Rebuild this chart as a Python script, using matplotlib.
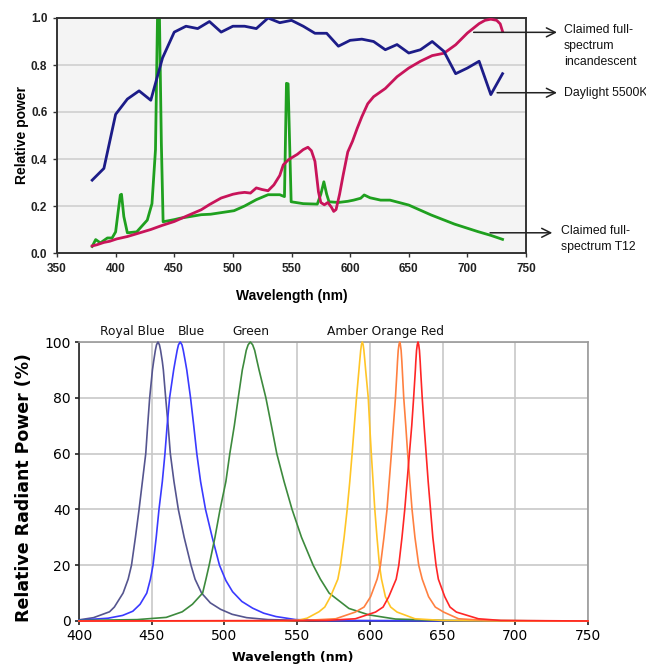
import matplotlib
matplotlib.use("Agg")
import matplotlib.pyplot as plt

# ---------- top chart data ----------
day_wl = [380, 390, 400, 410, 420, 430, 440, 450, 460, 470, 480, 490, 500, 510, 520, 530,
          540, 550, 560, 570, 580, 590, 600, 610, 620, 630, 640, 650, 660, 670, 680, 690,
          700, 710, 720, 730]
day_val = [0.31, 0.36, 0.59, 0.655, 0.69, 0.65, 0.83, 0.94, 0.965, 0.955, 0.985, 0.94,
           0.965, 0.965, 0.955, 1.0, 0.98, 0.99, 0.965, 0.935, 0.935, 0.88, 0.905, 0.91,
           0.90, 0.865, 0.887, 0.851, 0.865, 0.90, 0.858, 0.763, 0.787, 0.816, 0.674, 0.763]

inc_wl = [380, 384, 390, 395, 401, 410, 420, 430, 440, 450, 460, 473, 480, 490, 500, 505,
          510, 515, 520, 525, 530, 535, 540, 543, 547, 550, 555, 560, 564, 567, 570, 573,
          575, 578, 581, 584, 586, 588, 591, 594, 598, 602, 606, 610, 615, 620, 626, 630,
          640, 650, 660, 670, 680, 690, 700, 710, 715, 720, 725, 728, 730]
inc_val = [0.03, 0.035, 0.045, 0.05, 0.06, 0.07, 0.085, 0.10, 0.118, 0.134, 0.156, 0.184,
           0.206, 0.234, 0.25, 0.255, 0.258, 0.255, 0.277, 0.27, 0.265, 0.29, 0.33, 0.375,
           0.395, 0.405, 0.42, 0.44, 0.45, 0.435, 0.39, 0.26, 0.215, 0.205, 0.215, 0.195,
           0.177, 0.185, 0.25, 0.33, 0.43, 0.475, 0.53, 0.58, 0.635, 0.665, 0.686, 0.70,
           0.75, 0.787, 0.816, 0.84, 0.85, 0.886, 0.936, 0.976, 0.99, 0.995, 0.99, 0.975, 0.943]

t12_wl = [380, 383, 387, 393, 397, 400, 402, 404, 405, 407, 410, 418, 427, 431, 434, 435.7,
          437.4, 439, 440.5, 450, 455, 473, 481, 501, 510, 520, 530, 540, 544, 545.7, 547.1,
          549.7, 560, 572, 575, 577.6, 580, 582, 590, 598, 603, 609, 612, 617, 626, 634, 650,
          669, 689, 709, 720, 730]
t12_val = [0.028, 0.057, 0.043, 0.064, 0.064, 0.09, 0.17, 0.247, 0.25, 0.155, 0.086, 0.09,
           0.14, 0.21, 0.44, 1.0, 1.0, 0.467, 0.133, 0.142, 0.148, 0.163, 0.165, 0.18, 0.2,
           0.227, 0.248, 0.248, 0.24, 0.722, 0.72, 0.218, 0.21, 0.208, 0.25, 0.303, 0.25,
           0.218, 0.215, 0.22, 0.225, 0.233, 0.247, 0.235, 0.225, 0.225, 0.204, 0.162, 0.123,
           0.091, 0.075, 0.058]

# ---------- bottom chart data (LED spectra) ----------
royal_wl = [400, 410, 421, 424.3, 430.3, 433.8, 436.1, 438.8, 441.3, 443.6, 445.9, 447.2,
            448.6, 450.5, 451.3, 452.5, 453.3, 454.3, 455.3, 456.1, 457.3, 458, 459.6, 461.3,
            462.8, 465.3, 468.3, 472.3, 477, 479.8, 484.3, 490.3, 497.3, 505.3, 515.3, 530,
            560, 750]
royal_val = [0.4, 1.2, 3.3, 5, 10, 15, 20, 30, 40, 50, 60, 70, 80, 90, 93, 97, 99, 100, 99,
             97, 93, 90, 80, 70, 60, 50, 40, 30, 20, 15, 10, 6.5, 4.2, 2.4, 1.2, 0.5, 0.15, 0]

blue_wl = [400, 420, 430, 437, 442, 446.6, 449.1, 450.9, 453.1, 455, 457.3, 459.1, 460.6,
           462.3, 465.1, 466.1, 467.5, 468.4, 469.6, 470.8, 471.7, 473.1, 474.1, 476.7,
           478.9, 481, 483.6, 487, 491.6, 496.6, 501, 505.6, 512, 519.4, 527, 535.4, 549,
           570, 750]
blue_val = [0.3, 1, 2, 3.5, 6, 10, 15, 20, 30, 40, 50, 60, 70, 80, 90, 93, 97, 99, 100, 99,
            97, 93, 90, 80, 70, 60, 50, 40, 30, 20, 14.5, 10.5, 7, 4.6, 2.8, 1.6, 0.5, 0.15, 0]

green_wl = [400, 440, 460, 471, 478, 485, 487.3, 489.5, 493.5, 497, 501, 503.7, 506.8, 509.5,
            512.3, 513.5, 515, 516.3, 517.8, 519.4, 520.8, 522.5, 523.8, 528.5, 532.3, 536,
            541, 546.5, 553, 561, 566, 572, 585.6, 599.3, 617.6, 650, 750]
green_val = [0.2, 0.5, 1.3, 3.3, 6, 10, 15, 20, 30, 40, 50, 60, 70, 80, 90, 93, 97, 99, 100,
             99, 97, 93, 90, 80, 70, 60, 50, 40, 30, 20, 15, 10, 4.5, 2.2, 0.7, 0.2, 0]

amber_wl = [400, 540, 551, 556.8, 565, 569, 572.9, 578, 579.8, 582.3, 584.4, 586.2, 587.8,
            589.3, 590.8, 592.5, 593, 593.7, 594.2, 594.8, 595.4, 595.9, 596.6, 597.1, 598.9,
            599.9, 601, 602.2, 603.4, 604.9, 606.6, 608, 610.7, 614.3, 618.7, 631, 650, 700, 750]
amber_val = [0, 0, 0.3, 1, 3.3, 5, 8.7, 15, 20, 30, 40, 50, 60, 70, 80, 90, 93, 97, 99, 100,
             99, 97, 93, 90, 80, 70, 60, 50, 40, 30, 20, 15, 8.7, 5, 3.2, 0.8, 0.2, 0, 0]

orange_wl = [400, 530, 555, 576.5, 590, 596, 600.5, 605, 607.3, 609.7, 611.8, 613.3, 614.8,
             616.2, 617.6, 618.7, 619, 619.5, 620, 620.5, 621, 621.5, 622, 622.3, 623.3,
             624.7, 626, 627.5, 629, 631, 633.6, 636, 640.4, 645, 650.7, 661, 680, 720, 750]
orange_val = [0, 0, 0.2, 0.8, 3.2, 5, 8.7, 15, 20, 30, 40, 50, 60, 70, 80, 90, 93, 97, 99,
              100, 99, 97, 93, 90, 80, 70, 60, 50, 40, 30, 20, 15, 8.7, 5, 3.2, 0.8, 0.2, 0, 0]

red_wl = [400, 570, 590, 603.9, 609.1, 613, 618.1, 619.9, 622.1, 624, 625.6, 627.2, 628.8,
          630.1, 631.3, 631.6, 632.1, 632.6, 633.1, 633.6, 634.1, 634.6, 634.9, 636, 637.3,
          638.7, 640.1, 641.7, 643.3, 645.5, 647.1, 651.5, 655.1, 659.5, 674.6, 690.1, 750]
red_val = [0, 0.2, 0.8, 3.2, 5, 8.7, 15, 20, 30, 40, 50, 60, 70, 80, 90, 93, 97, 99, 100, 99,
           97, 93, 90, 80, 70, 60, 50, 40, 30, 20, 15, 8.7, 5, 3.2, 0.8, 0.2, 0]

led_wl = [royal_wl, blue_wl, green_wl, amber_wl, orange_wl, red_wl]
led_val = [royal_val, blue_val, green_val, amber_val, orange_val, red_val]
led_colors = ["#55558f", "#3a3aff", "#3d8a3d", "#ffc526", "#ff8040", "#ff2626"]

peak_labels = ["Royal Blue", "Blue", "Green", "Amber Orange Red"]
peak_label_x = [437, 477, 518.5, 611]

fig = plt.figure(figsize=(6.46, 6.69), dpi=100)

# ---------- top chart ----------
ax1 = fig.add_axes([57 / 646, 1 - 253 / 669, 469 / 646, 235 / 669])
ax1.set_facecolor("#f4f4f4")
for v in [0.2, 0.4, 0.6, 0.8]:
    ax1.axhline(v, color="#cfcfcf", lw=1.2, zorder=0)

ax1.plot(t12_wl, t12_val, color="#1fa01f", lw=2, zorder=2)
ax1.plot(inc_wl, inc_val, color="#c8145a", lw=2, zorder=3)
ax1.plot(day_wl, day_val, color="#1c1c88", lw=2, zorder=4)

ax1.set_xlim(350, 750)
ax1.set_ylim(0, 1)
ax1.set_xticks(range(350, 751, 50))
ax1.set_yticks([0, 0.2, 0.4, 0.6, 0.8, 1.0])
ax1.set_yticklabels(["0.0", "0.2", "0.4", "0.6", "0.8", "1.0"])
for s in ax1.spines.values():
    s.set_color("#333333")
    s.set_linewidth(1.4)
ax1.tick_params(length=3, width=1, color="#333333", pad=4)
for lab in ax1.get_xticklabels() + ax1.get_yticklabels():
    lab.set_family(["Liberation Sans", "DejaVu Sans"])
    lab.set_fontweight("bold")
    lab.set_fontsize(8.5)
    lab.set_color("#222222")
ax1.set_xlabel("Wavelength (nm)", family=["Liberation Sans"], fontweight="bold", fontsize=10)
ax1.xaxis.set_label_coords(0.5, -0.152)
ax1.set_ylabel("Relative power", family=["Liberation Sans"], fontweight="bold", fontsize=10)
ax1.yaxis.set_label_coords(-0.06, 0.5)

# arrows + labels at the right
arrow_kw = dict(arrowstyle="->", color="#222222", lw=1.1, mutation_scale=16)
ann_font = dict(family=["Liberation Sans"], fontsize=8.8, color="#111111")
ax1.annotate("", xy=(1.072, 0.939), xycoords=("axes fraction", "data"),
             xytext=(703, 0.939), textcoords="data", arrowprops=arrow_kw, annotation_clip=False)
ax1.text(1.081, 0.881, "Claimed full-\nspectrum\nincandescent", transform=ax1.get_yaxis_transform(),
         va="center", ha="left", linespacing=1.4, **ann_font)
ax1.annotate("", xy=(1.072, 0.682), xycoords=("axes fraction", "data"),
             xytext=(723, 0.682), textcoords="data", arrowprops=arrow_kw, annotation_clip=False)
ax1.text(1.081, 0.682, "Daylight 5500K", transform=ax1.get_yaxis_transform(),
         va="center", ha="left", **ann_font)
ax1.annotate("", xy=(1.062, 0.086), xycoords=("axes fraction", "data"),
             xytext=(717, 0.086), textcoords="data", arrowprops=arrow_kw, annotation_clip=False)
ax1.text(1.075, 0.06, "Claimed full-\nspectrum T12", transform=ax1.get_yaxis_transform(),
         va="center", ha="left", linespacing=1.4, **ann_font)

# ---------- bottom chart ----------
ax2 = fig.add_axes([79 / 646, 1 - 621 / 669, 509 / 646, 279 / 669])
ax2.set_xlim(400, 750)
ax2.set_ylim(0, 100)
ax2.set_xticks(range(400, 751, 50))
ax2.set_yticks(range(0, 101, 20))
ax2.grid(True, color="#c8c8c8", lw=1.2)
ax2.set_axisbelow(True)
for wl, val, c in zip(led_wl, led_val, led_colors):
    ax2.plot(wl, val, color=c, lw=1.2, clip_on=False, zorder=3, solid_joinstyle="round")

ax2.spines["left"].set_color("#222222")
ax2.spines["bottom"].set_color("#222222")
ax2.spines["top"].set_color("#9a9a9a")
ax2.spines["right"].set_color("#9a9a9a")
for s in ax2.spines.values():
    s.set_linewidth(1.2)
ax2.tick_params(length=3, width=1.2, color="#222222", pad=3, labelsize=10)
for lab in ax2.get_xticklabels() + ax2.get_yticklabels():
    lab.set_family(["DejaVu Sans"])
ax2.set_ylabel("Relative Radiant Power (%)", family=["DejaVu Sans"], fontweight="bold",
               fontsize=12.5)
ax2.yaxis.set_label_coords(-0.09, 0.48)
ax2.set_xlabel("Wavelength (nm)", family=["DejaVu Sans"], fontweight="bold", fontsize=9)
ax2.xaxis.set_label_coords(0.42, -0.107)

for txt, x in zip(peak_labels, peak_label_x):
    ax2.text(x, 1.039, txt, transform=ax2.get_xaxis_transform(), ha="center", va="center",
             fontsize=8.8, family=["DejaVu Sans"], color="#111111")

fig.savefig("out.png", dpi=100)
